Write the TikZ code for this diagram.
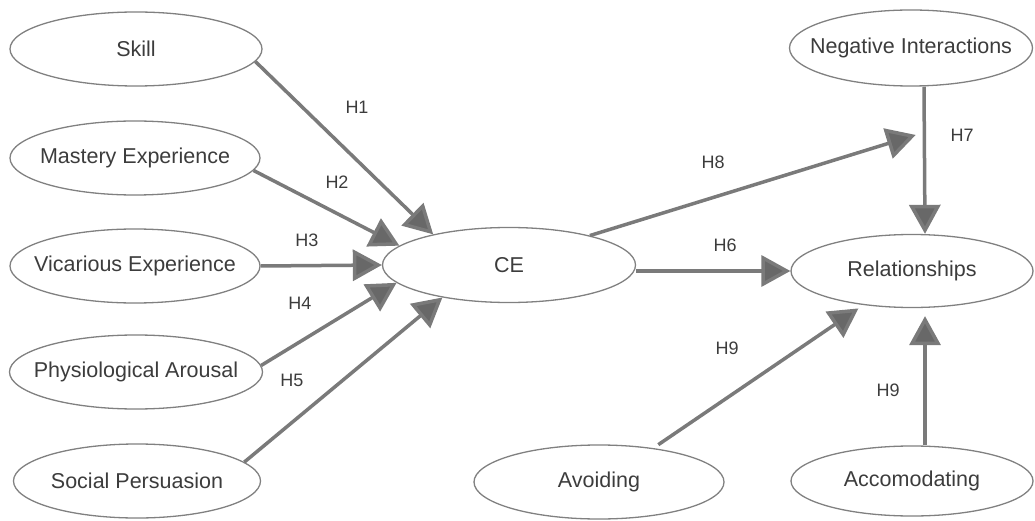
\documentclass[tikz,border=0pt]{standalone}
\usepackage{fontspec}
\setmainfont{Liberation Sans}
\usetikzlibrary{arrows.meta,shapes.geometric}
\definecolor{edgegray}{HTML}{7A7A7A}
\definecolor{tipgray}{HTML}{686868}
\definecolor{ellgray}{HTML}{808080}
\definecolor{txtgray}{HTML}{3C3C3C}
\begin{document}
\begin{tikzpicture}[x=1pt,y=-1pt,
  ell/.style={draw=ellgray, line width=1.3pt, ellipse, inner sep=0pt, minimum width=#1, minimum height=74pt},
  ell/.default=250pt,
  nlab/.style={font=\fontsize{21.5}{24}\selectfont, text=txtgray, inner sep=0pt},
  hlab/.style={font=\fontsize{18}{20}\selectfont, text=txtgray, inner sep=0pt},
  arr/.style={draw=edgegray, line width=3.5pt, -{Triangle[length=29pt,width=31pt,fill=tipgray]}}]
\useasboundingbox (0,0) rectangle (1035,521);
% left column
\node[ell=252pt, label={[nlab]center:Skill}] (skill) at (136,49) {};
\node[ell, label={[nlab]center:Mastery Experience}] (mastery) at (135,158) {};
\node[ell, label={[nlab]center:Vicarious Experience}] (vicar) at (135,266) {};
\node[ell=253pt, label={[nlab]center:Physiological Arousal}] (phys) at (136,372) {};
\node[ell=247pt, label={[nlab]center:Social Persuasion}] (social) at (137,481) {};
% centre
\node[ell=253pt, minimum height=75pt, label={[nlab]center:CE}] (ce) at (509,265) {};
\node[ell=250pt, label={[nlab]center:Avoiding}] (avoid) at (599,482) {};
% right column
\node[ell=243pt, minimum height=76pt, label={[nlab]center:Negative Interactions}] (neg) at (911,48) {};
\node[ell=242pt, minimum height=73pt, label={[nlab]center:Relationships}] (rel) at (912,271) {};
\node[ell=242pt, minimum height=70pt, label={[nlab]center:Accomodating}] (accom) at (912,481) {};
% connectors
\draw[arr] (skill.-6) -- (ce.158);
\draw[arr] (mastery.-6) -- (ce.170);
\draw[arr] (vicar.east) -- (ce.west);
\draw[arr] (phys.3) -- (ce.189);
\draw[arr] (social.10) -- (ce.206);
\draw[arr] ([xshift=13pt]neg.south) -- coordinate[pos=0.31] (mod) ([xshift=13pt]rel.north);
\draw[arr, shorten >=9pt] (ce.20) -- (mod);
\draw[arr] (ce.east |- rel.west) -- (rel.west);
\draw[arr, shorten <=6pt, shorten >=6pt] (avoid.32) -- (rel.215);
\draw[arr, shorten >=8pt] ([xshift=13pt]accom.north) -- ([xshift=13pt]rel.south);
% hypothesis labels
\node[hlab] (h1) at (357,107) {H1};
\node[hlab] (h2) at (337,182) {H2};
\node[hlab] (h3) at (307,240) {H3};
\node[hlab] (h4) at (300,303) {H4};
\node[hlab] (h5) at (292,380) {H5};
\node[hlab] (h8) at (713,162) {H8};
\node[hlab] (h7) at (962,135) {H7};
\node[hlab] (h6) at (725,245) {H6};
\node[hlab] (h9a) at (727,348) {H9};
\node[hlab] (h9b) at (888,390) {H9};
\end{tikzpicture}
\end{document}
